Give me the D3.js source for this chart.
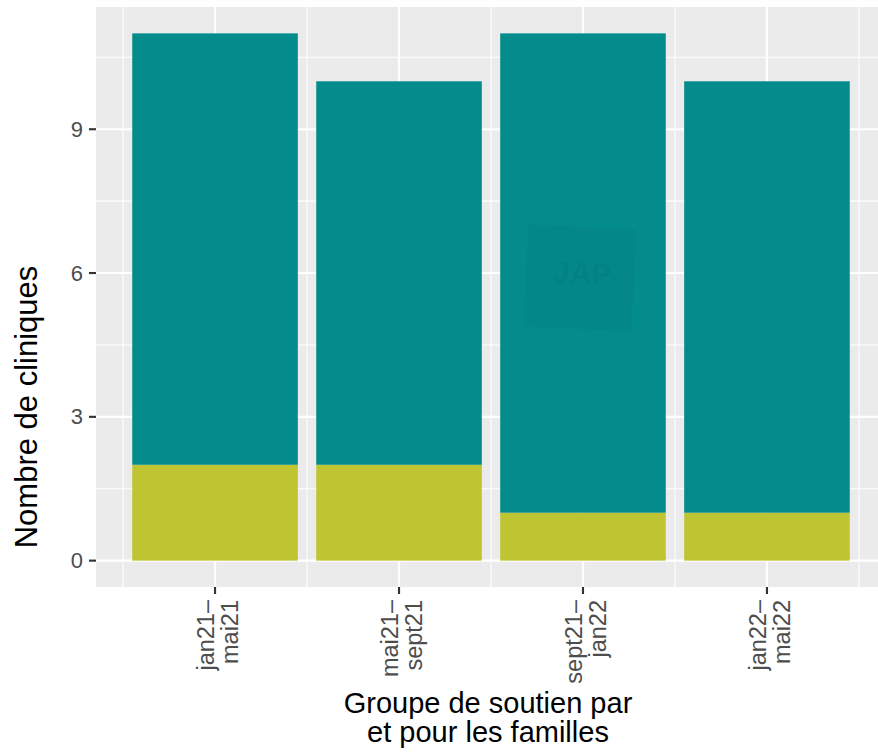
<!DOCTYPE html>
<html>
<head>
<meta charset="utf-8">
<script src="https://cdn.jsdelivr.net/npm/d3@7"></script>
<style>
  html, body { margin: 0; padding: 0; background: #ffffff; }
  svg { display: block; font-family: "Liberation Sans", Arial, Helvetica, sans-serif; }
</style>
</head>
<body>
<svg id="chart" width="878" height="752"></svg>
<script>
// ---- data ----
const categories = ["jan21–\nmai21", "mai21–\nsept21", "sept21–\njan22", "jan22–\nmai22"];
const seriesNames = ["bas", "haut"];
const seriesBottom = [2, 2, 1, 1];
const seriesTop = [9, 8, 10, 9];
const seriesColors = ["#BFC433", "#048C8C"];
const yTicks = [0, 3, 6, 9];
const yMinorTicks = [1.5, 4.5, 7.5, 10.5];
const yTitle = "Nombre de cliniques";
const xTitle = ["Groupe de soutien par", "et pour les familles"];
const watermark = "JAP";

// ---- layout ----
const W = 878, H = 752;
const panel = { left: 96, right: 886, top: 7, bottom: 587 };

const svg = d3.select("#chart");

const x = d3.scaleLinear()
  .domain([1 - 0.647, categories.length + 0.647])
  .range([panel.left, panel.right]);
const bandW = (x(2) - x(1)) * 0.9;

const totals = seriesBottom.map((d, i) => d + seriesTop[i]);
const ymax = d3.max(totals);
const y = d3.scaleLinear()
  .domain([-0.05 * ymax, ymax * 1.05])
  .range([panel.bottom, panel.top]);

const g = svg.append("g");

// panel background
g.append("rect")
  .attr("x", panel.left).attr("y", panel.top)
  .attr("width", panel.right - panel.left)
  .attr("height", panel.bottom - panel.top)
  .attr("fill", "#EBEBEB");

// minor grid
g.selectAll(".yminor").data(yMinorTicks).enter().append("line")
  .attr("x1", panel.left).attr("x2", panel.right)
  .attr("y1", d => y(d)).attr("y2", d => y(d))
  .attr("stroke", "#ffffff").attr("stroke-width", 1.07);
const xMinor = d3.range(0, categories.length + 1).map(i => i + 0.5);
g.selectAll(".xminor").data(xMinor).enter().append("line")
  .attr("y1", panel.top).attr("y2", panel.bottom)
  .attr("x1", d => x(d)).attr("x2", d => x(d))
  .attr("stroke", "#ffffff").attr("stroke-width", 1.07);

// major grid
g.selectAll(".ymajor").data(yTicks).enter().append("line")
  .attr("x1", panel.left).attr("x2", panel.right)
  .attr("y1", d => y(d)).attr("y2", d => y(d))
  .attr("stroke", "#ffffff").attr("stroke-width", 2.13);
g.selectAll(".xmajor").data(categories).enter().append("line")
  .attr("y1", panel.top).attr("y2", panel.bottom)
  .attr("x1", (d, i) => x(i + 1)).attr("x2", (d, i) => x(i + 1))
  .attr("stroke", "#ffffff").attr("stroke-width", 2.13);

// stacked bars
const stackData = categories.map((c, i) => ({ i, bas: seriesBottom[i], haut: seriesTop[i] }));
const stacked = d3.stack().keys(seriesNames)(stackData);
stacked.forEach((layer, li) => {
  g.selectAll(".bar" + li).data(layer).enter().append("rect")
    .attr("x", d => x(d.data.i + 1) - bandW / 2)
    .attr("width", bandW)
    .attr("y", d => y(d[1]))
    .attr("height", d => y(d[0]) - y(d[1]))
    .attr("fill", seriesColors[li]);
});

// watermark
const wm = g.append("g").attr("transform", "translate(580,278) rotate(2.6)");
wm.append("rect")
  .attr("x", -54).attr("y", -51).attr("width", 108).attr("height", 102)
  .attr("fill", "#000000").attr("fill-opacity", 0.035);
wm.append("text")
  .attr("x", 2).attr("y", -5)
  .attr("text-anchor", "middle").attr("dominant-baseline", "central")
  .attr("font-size", 30).attr("font-weight", "bold")
  .attr("fill", "#000000").attr("fill-opacity", 0.05)
  .text(watermark);

// y axis ticks + labels
const yAxis = g.append("g");
yAxis.selectAll("line").data(yTicks).enter().append("line")
  .attr("x1", panel.left - 7).attr("x2", panel.left)
  .attr("y1", d => y(d)).attr("y2", d => y(d))
  .attr("stroke", "#333333").attr("stroke-width", 2.13);
yAxis.selectAll("text").data(yTicks).enter().append("text")
  .attr("x", panel.left - 13)
  .attr("y", d => y(d))
  .attr("text-anchor", "end").attr("dominant-baseline", "central")
  .attr("font-size", 22).attr("fill", "#4D4D4D")
  .text(d => d);

// x axis ticks + labels
const xAxis = g.append("g");
xAxis.selectAll("line").data(categories).enter().append("line")
  .attr("x1", (d, i) => x(i + 1)).attr("x2", (d, i) => x(i + 1))
  .attr("y1", panel.bottom).attr("y2", panel.bottom + 7)
  .attr("stroke", "#333333").attr("stroke-width", 2.13);
const xl = xAxis.selectAll("text").data(categories).enter().append("text")
  .attr("transform", (d, i) => `translate(${x(i + 1)},${panel.bottom + 13}) rotate(-90)`)
  .attr("text-anchor", "end")
  .attr("font-size", 23.5).attr("fill", "#4D4D4D");
xl.each(function(d) {
  const lines = d.split("\n");
  const t = d3.select(this);
  lines.forEach((ln, k) => {
    t.append("tspan").attr("x", 0).attr("y", k === 0 ? -1 : 23).text(ln);
  });
});

// axis titles
const xt = svg.append("text")
  .attr("text-anchor", "middle")
  .attr("font-size", 29).attr("fill", "#000000");
xTitle.forEach((ln, k) => {
  xt.append("tspan").attr("x", 488).attr("y", 713 + k * 29).text(ln);
});

svg.append("text")
  .attr("transform", "translate(37,407) rotate(-90)")
  .attr("text-anchor", "middle")
  .attr("font-size", 31).attr("fill", "#000000")
  .text(yTitle);
</script>
</body>
</html>
